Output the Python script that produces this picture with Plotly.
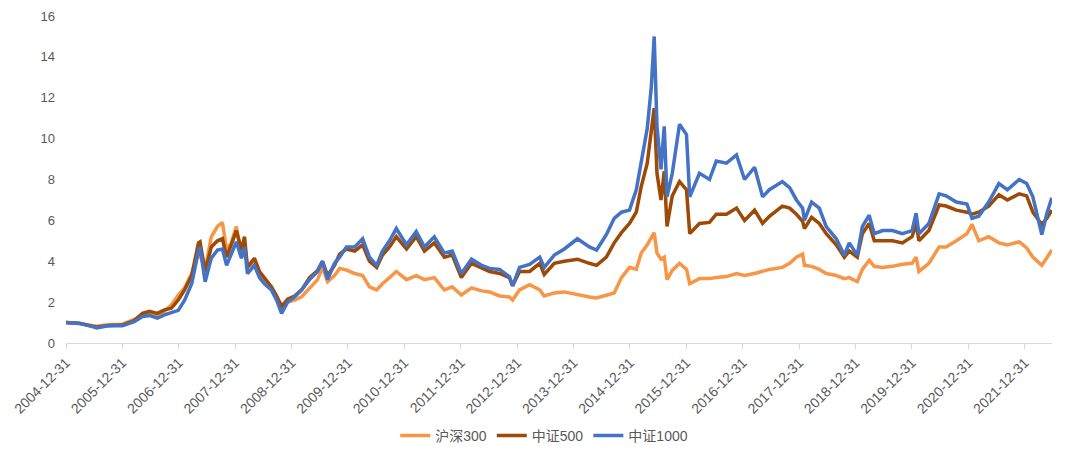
import plotly.graph_objects as go

dates = [
    "2004-12-31", "2005-03-28", "2005-06-21", "2005-07-17", "2005-10-09", "2005-12-31",
    "2006-03-18", "2006-05-10", "2006-06-24", "2006-08-14", "2006-09-30", "2006-11-13",
    "2006-12-28", "2007-02-07", "2007-03-25", "2007-05-08", "2007-05-18", "2007-06-20",
    "2007-07-30", "2007-09-08", "2007-10-10", "2007-11-06", "2007-12-06", "2008-01-08",
    "2008-02-10", "2008-03-01", "2008-03-20", "2008-05-04", "2008-06-06", "2008-07-08",
    "2008-08-22", "2008-09-25", "2008-10-27", "2008-12-05", "2009-01-19", "2009-03-06",
    "2009-04-26", "2009-06-17", "2009-07-19", "2009-08-21", "2009-10-05", "2009-11-07",
    "2009-12-21", "2010-02-13", "2010-04-05", "2010-05-19", "2010-07-05", "2010-08-11",
    "2010-09-26", "2010-11-09", "2011-01-14", "2011-03-18", "2011-05-10", "2011-07-13",
    "2011-09-16", "2011-11-06", "2012-01-04", "2012-03-10", "2012-05-14", "2012-07-05",
    "2012-09-08", "2012-11-10", "2012-12-01", "2013-01-15", "2013-03-21", "2013-05-26",
    "2013-06-24", "2013-08-28", "2013-11-01", "2014-01-25", "2014-04-12", "2014-05-29",
    "2014-07-31", "2014-09-20", "2014-11-06", "2014-12-28", "2015-02-10", "2015-03-14",
    "2015-04-22", "2015-05-18", "2015-06-06", "2015-06-24", "2015-07-20", "2015-08-10",
    "2015-08-28", "2015-10-01", "2015-11-17", "2016-01-01", "2016-01-22", "2016-03-25",
    "2016-05-29", "2016-07-12", "2016-09-16", "2016-11-20", "2017-01-11", "2017-03-17",
    "2017-05-08", "2017-06-21", "2017-09-13", "2017-10-30", "2017-12-13", "2018-01-22",
    "2018-02-03", "2018-03-21", "2018-05-10", "2018-06-24", "2018-08-28", "2018-10-19",
    "2018-11-20", "2019-01-11", "2019-02-13", "2019-03-29", "2019-05-01", "2019-06-24",
    "2019-08-26", "2019-10-30", "2020-01-01", "2020-01-27", "2020-02-14", "2020-04-19",
    "2020-06-24", "2020-08-08", "2020-10-13", "2020-12-21", "2021-01-23", "2021-03-08",
    "2021-05-11", "2021-07-16", "2021-09-09", "2021-11-25", "2022-01-12", "2022-02-21",
    "2022-04-20", "2022-05-23", "2022-06-24",
]

hs300 = [
    1.0, 0.95, 0.85, 0.82, 0.9, 0.92,
    1.15, 1.35, 1.4, 1.35, 1.55, 1.86,
    2.35, 2.7, 3.4, 4.4, 4.3, 3.6,
    5.2, 5.7, 5.9, 4.55, 4.9, 5.7,
    4.4, 4.9, 3.7, 4.0, 3.4, 3.0,
    2.7, 2.3, 1.85, 2.0, 2.1, 2.26,
    2.7, 3.1, 3.7, 3.0, 3.3, 3.65,
    3.57, 3.4, 3.3, 2.75, 2.6, 2.9,
    3.2, 3.5, 3.1, 3.3, 3.1, 3.2,
    2.6, 2.75, 2.35, 2.7, 2.55, 2.5,
    2.3, 2.25, 2.1, 2.6, 2.85, 2.6,
    2.3, 2.45, 2.5, 2.35, 2.25, 2.2,
    2.35, 2.45, 3.2, 3.7, 3.6, 4.4,
    4.8, 5.2, 5.4, 4.4, 4.1, 4.2,
    3.1, 3.55, 3.9, 3.6, 2.9, 3.15,
    3.15, 3.2, 3.25, 3.4, 3.3, 3.4,
    3.5, 3.6, 3.7, 3.9, 4.2, 4.35,
    3.8, 3.75, 3.6, 3.4, 3.3, 3.15,
    3.2, 3.0, 3.6, 4.05, 3.75, 3.7,
    3.75, 3.85, 3.9, 4.2, 3.5, 3.9,
    4.7, 4.7, 5.0, 5.35, 5.8, 5.0,
    5.2, 4.9, 4.8, 4.95, 4.65, 4.2,
    3.8, 4.2, 4.55,
]

zz500 = [
    1.0, 0.97, 0.82, 0.78, 0.86, 0.88,
    1.1, 1.45, 1.55, 1.45, 1.62, 1.7,
    2.1, 2.6, 3.3, 4.9, 4.95, 3.5,
    4.7, 5.0, 5.1, 4.2, 4.8, 5.5,
    4.55, 5.2, 3.7, 4.15, 3.5, 3.2,
    2.75, 2.3, 1.78, 2.15, 2.3, 2.6,
    3.2, 3.55, 4.0, 3.3, 3.8, 4.35,
    4.6, 4.5, 4.8, 4.0, 3.7, 4.3,
    4.7, 5.2, 4.6, 5.2, 4.5, 4.9,
    4.2, 4.3, 3.2, 3.9, 3.7, 3.5,
    3.4, 3.2, 2.8, 3.5, 3.5, 3.9,
    3.35, 3.9, 4.0, 4.1, 3.9, 3.8,
    4.2, 4.9, 5.4, 5.85, 6.4, 7.65,
    8.8, 10.2, 11.5, 8.3, 7.0, 8.4,
    5.7, 7.2, 7.9, 7.5, 5.35, 5.85,
    5.9, 6.3, 6.3, 6.6, 6.0, 6.5,
    5.85, 6.2, 6.7, 6.6, 6.3, 5.95,
    5.6, 6.15, 5.85, 5.35, 4.8, 4.2,
    4.5, 4.2, 5.35, 5.85, 5.0, 5.0,
    5.0, 4.9, 5.2, 5.85, 5.0, 5.5,
    6.75, 6.7, 6.5, 6.4, 6.3, 6.4,
    6.7, 7.25, 7.0, 7.3, 7.2, 6.4,
    5.8, 6.1, 6.5,
]

zz1000 = [
    1.0, 0.96, 0.8, 0.74, 0.86, 0.84,
    1.04, 1.3, 1.35, 1.22, 1.38, 1.47,
    1.6, 2.1, 2.9, 4.5, 4.7, 3.0,
    4.15, 4.55, 4.6, 3.8, 4.4, 4.95,
    4.15, 4.7, 3.4, 3.8, 3.2, 2.9,
    2.6, 2.1, 1.45, 2.0, 2.26, 2.6,
    3.1, 3.5, 4.0, 3.1, 3.9, 4.2,
    4.7, 4.7, 5.1, 4.2, 3.8, 4.5,
    5.0, 5.6, 4.8, 5.45, 4.7, 5.2,
    4.4, 4.5, 3.4, 4.1, 3.8, 3.65,
    3.6, 3.25, 2.8, 3.7, 3.85, 4.2,
    3.7, 4.3, 4.6, 5.1, 4.7, 4.55,
    5.3, 6.1, 6.4, 6.5, 7.5, 8.95,
    10.5, 12.5, 15.0, 10.6, 8.5, 10.6,
    7.15, 8.3, 10.7, 10.2, 7.15, 8.3,
    8.0, 8.9, 8.8, 9.2, 8.0, 8.6,
    7.15, 7.5, 7.9, 7.6, 7.0, 6.6,
    6.0, 6.9, 6.6, 5.7, 5.1, 4.3,
    4.9, 4.3, 5.7, 6.25, 5.35, 5.5,
    5.5, 5.35, 5.5, 6.35, 5.35, 5.85,
    7.3, 7.2, 6.9, 6.8, 6.1, 6.2,
    6.9, 7.8, 7.5, 8.0, 7.8, 7.15,
    5.3, 6.35, 7.1,
]

tick_vals = [f"{y}-12-31" for y in range(2004, 2022)]
tick_text = [f"{y}-12-31" for y in range(2004, 2022)]
y_ticks = [0, 2, 4, 6, 8, 10, 12, 14, 16]

series = [
    ("沪深300", hs300, "#F79646"),
    ("中证500", zz500, "#9C4A06"),
    ("中证1000", zz1000, "#4472C4"),
]

fig = go.Figure()
for name, vals, color in series:
    fig.add_trace(go.Scatter(
        x=dates, y=vals, mode="lines", name=name,
        line=dict(color=color, width=3.5),
    ))

font_family = "Liberation Sans, Arial, Noto Sans CJK SC, sans-serif"
fig.update_layout(
    width=1080, height=455,
    margin=dict(l=66, r=28, t=16, b=112, autoexpand=False),
    paper_bgcolor="white", plot_bgcolor="white",
    font=dict(family=font_family, size=13, color="#595959"),
    showlegend=True,
    legend=dict(
        orientation="h", x=0.485, xanchor="center", y=-0.284, yanchor="middle",
        font=dict(size=14, color="#595959"),
    ),
    xaxis=dict(
        type="date", range=["2004-12-31", "2022-06-25"],
        tickmode="array", tickvals=tick_vals, ticktext=tick_text,
        tickangle=-45, showgrid=False, zeroline=False, automargin=False,
        showline=True, linecolor="#D9D9D9", linewidth=1,
        ticks="outside", ticklen=5, tickcolor="#D9D9D9",
        tickfont=dict(size=14, color="#595959"),
    ),
    yaxis=dict(
        range=[0, 16], tickmode="array", tickvals=y_ticks,
        showgrid=False, zeroline=False, showline=False, automargin=False,
        ticklabelstandoff=10,
        tickfont=dict(size=13, color="#595959"),
    ),
)

fig.write_html("out.html")
